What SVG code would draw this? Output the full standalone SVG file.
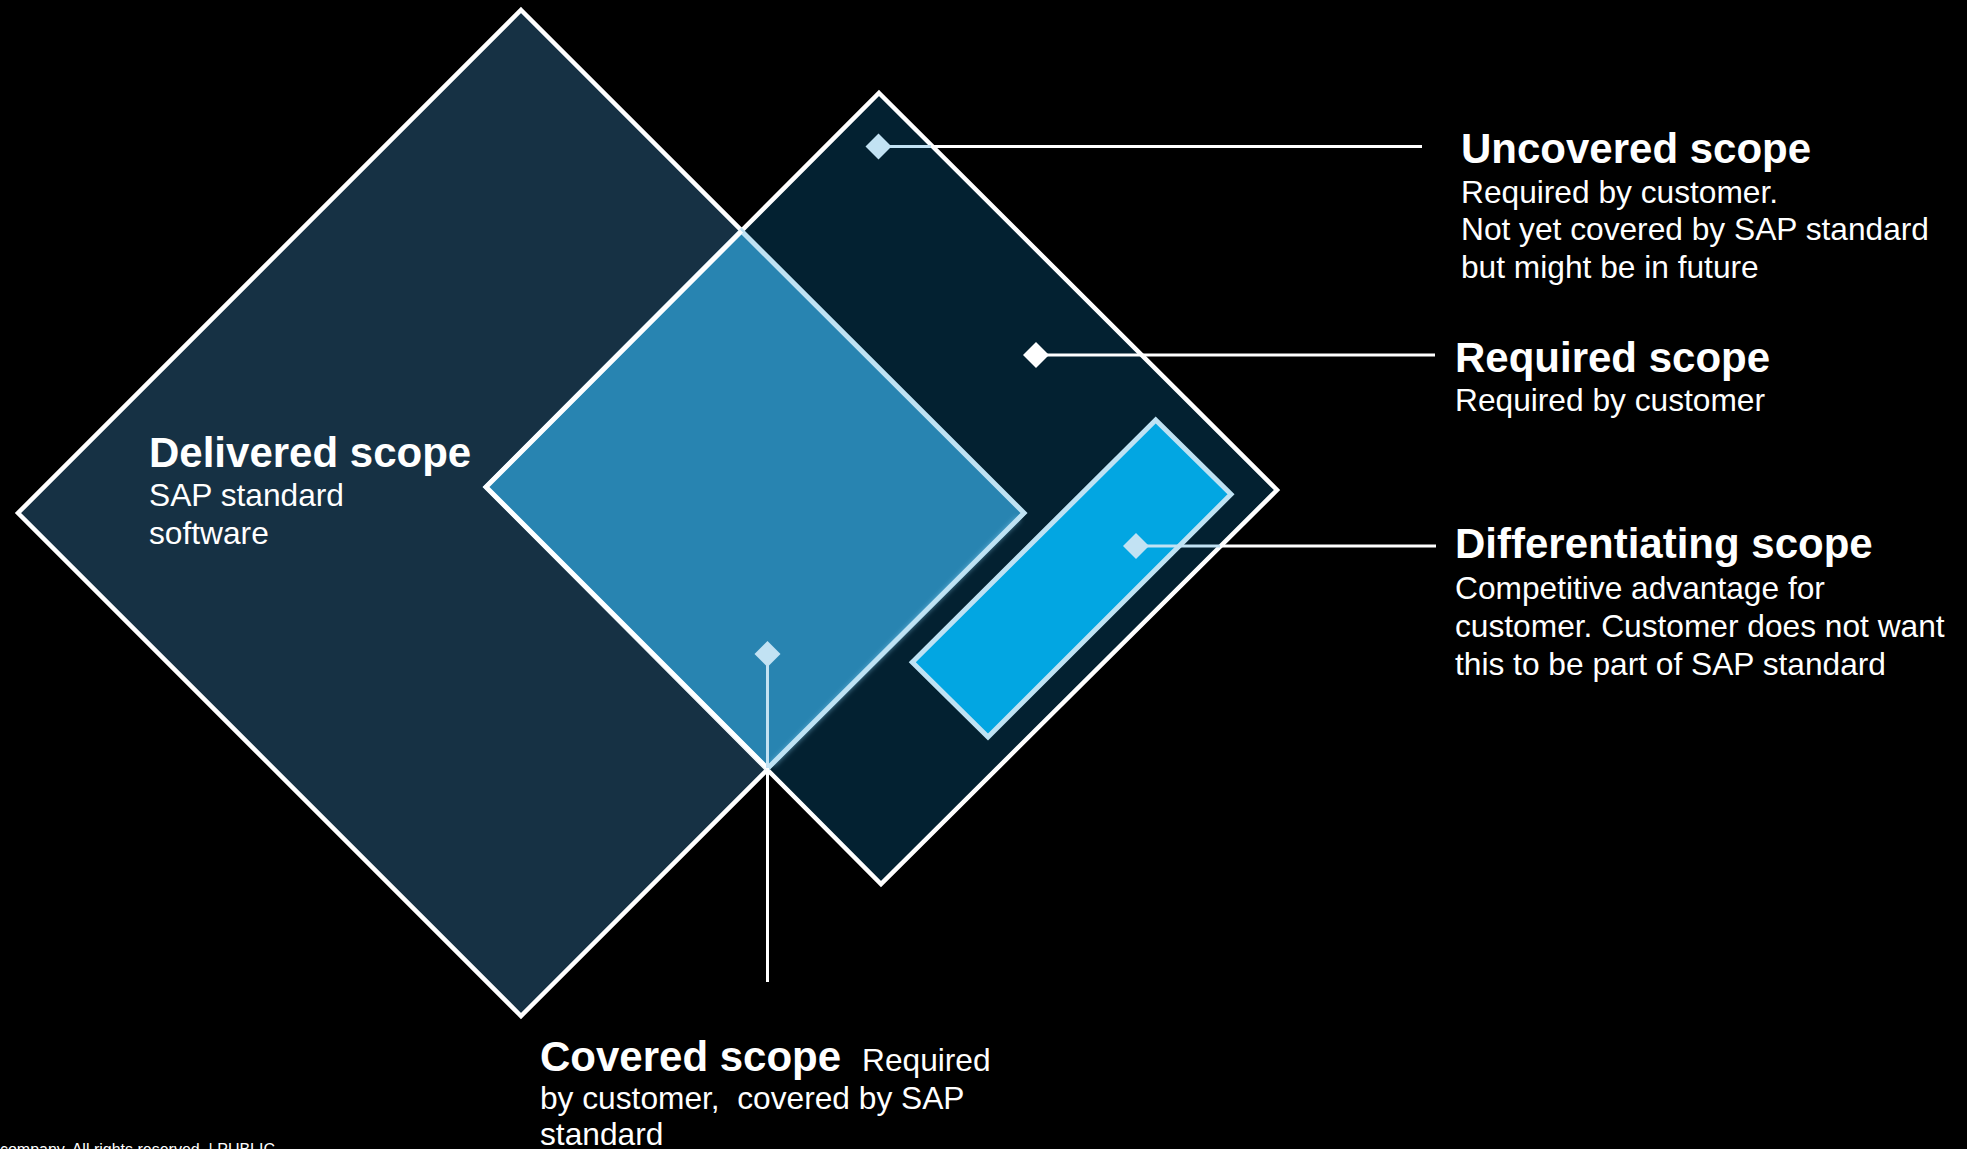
<svg xmlns="http://www.w3.org/2000/svg" width="1967" height="1149" viewBox="0 0 1967 1149">
<style>
  .t { font-family: "Liberation Sans", Arial, sans-serif; fill: #ffffff; }
  .h { font-size: 42px; font-weight: bold; }
  .s { font-size: 31.7px; font-weight: normal; }
  .edge { fill: none; stroke: #ffffff; stroke-width: 4.5; stroke-linejoin: miter; }
  .ln { fill: none; stroke-width: 3; }
</style>
<defs>
  <marker id="dLight" markerUnits="userSpaceOnUse" markerWidth="28" markerHeight="28" refX="14" refY="14" orient="0">
    <path d="M14 1 L27 14 L14 27 L1 14 Z" fill="#c2e2f3"/>
  </marker>
  <marker id="dWhite" markerUnits="userSpaceOnUse" markerWidth="28" markerHeight="28" refX="14" refY="14" orient="0">
    <path d="M14 1 L27 14 L14 27 L1 14 Z" fill="#ffffff"/>
  </marker>
  <filter id="glow" x="-10%" y="-10%" width="120%" height="120%">
    <feGaussianBlur stdDeviation="2.5"/>
  </filter>
</defs>
<rect x="0" y="0" width="1967" height="1149" fill="#000000"/>

<g id="delivered">
  <polygon points="521,10 1024,513 521,1016 18,513" class="edge" style="fill:#163144"/>
  <text class="t h" x="149" y="467">Delivered scope</text>
  <text class="t s" x="149" y="506">SAP standard</text>
  <text class="t s" x="149" y="544">software</text>
</g>

<g id="required">
  <polygon points="879,93 1277,490 881,884 486,487" class="edge" style="fill:#032131"/>
  <text class="t h" x="1455" y="372">Required scope</text>
  <text class="t s" x="1455" y="411">Required by customer</text>
</g>

<g id="covered">
  <polygon points="741.5,231 1024,513 767.5,768.5 486,487" fill="#2884b1" stroke="#bfe2f3" stroke-width="5" stroke-linejoin="miter"/>
  <line x1="1019" y1="518" x2="772" y2="765" stroke="#8fd2f2" stroke-width="6" opacity="0.45" filter="url(#glow)"/>
  <line x1="1024" y1="513" x2="767.5" y2="768.5" stroke="#bfe2f3" stroke-width="4"/>
  <polyline points="741.5,231 486,487 767.5,768.5" class="edge"/>
  <text class="t h" x="540" y="1071">Covered scope<tspan class="s" x="862">Required</tspan></text>
  <text class="t s" x="540" y="1109" xml:space="preserve">by customer,  covered by SAP</text>
  <text class="t s" x="540" y="1145">standard</text>
</g>

<g id="differentiating">
  <polygon points="1155.7,420 1231,494.3 988,737 912.3,662.3" fill="#02a6e2" stroke="#bfe2f3" stroke-width="5" stroke-linejoin="miter"/>
  <text class="t h" x="1455" y="558">Differentiating scope</text>
  <text class="t s" x="1455" y="599">Competitive advantage for</text>
  <text class="t s" x="1455" y="637">customer. Customer does not want</text>
  <text class="t s" x="1455" y="675">this to be part of SAP standard</text>
</g>

<g id="uncovered">
  <text class="t h" x="1461" y="163">Uncovered scope</text>
  <text class="t s" x="1461" y="203">Required by customer.</text>
  <text class="t s" x="1461" y="240">Not yet covered by SAP standard</text>
  <text class="t s" x="1461" y="278">but might be in future</text>
</g>

<g id="connectors">
  <path d="M878.5 146.5 H931" class="ln" stroke="#c2e2f3" marker-start="url(#dLight)"/>
  <path d="M931 146.5 H1422" class="ln" stroke="#ffffff"/>
  <path d="M1036 355 H1435" class="ln" stroke="#ffffff" marker-start="url(#dWhite)"/>
  <path d="M1136 546 H1220" class="ln" stroke="#c2e2f3" marker-start="url(#dLight)"/>
  <path d="M1220 546 H1436" class="ln" stroke="#ffffff"/>
  <path d="M767.5 654 V768" class="ln" stroke="#c2e2f3" marker-start="url(#dLight)"/>
  <path d="M767.5 768 V982" class="ln" stroke="#ffffff"/>
</g>

<g id="footer">
  <text class="t" x="275" y="1155" text-anchor="end" style="font-size:16px">company. All rights reserved. | PUBLIC</text>
</g>
</svg>
